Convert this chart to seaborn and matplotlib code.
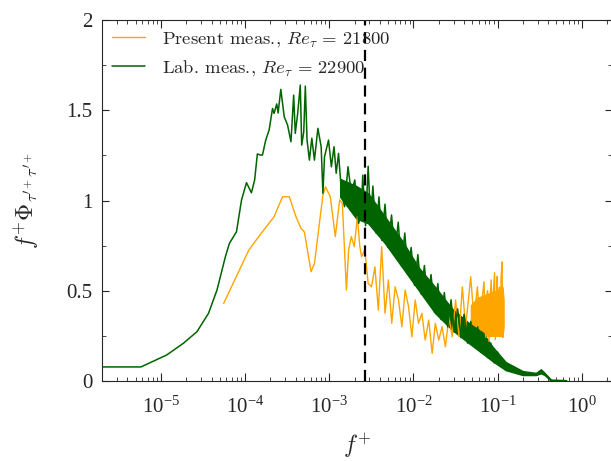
import numpy as np
import pandas as pd
import seaborn as sns
from matplotlib import pyplot as plt

# values (f+ on a log axis)
present_f = [5.57e-5, 1.11e-4, 1.53e-4, 2.21e-4, 2.79e-4, 3.35e-4, 4.03e-4, 4.62e-4, 5.06e-4, 6.08e-4,
             6.67e-4, 8.41e-4, 9.04e-4, 1.03e-3, 1.18e-3, 1.33e-3, 1.43e-3, 1.60e-3, 1.70e-3, 1.83e-3,
             1.98e-3, 2.16e-3, 2.31e-3, 2.42e-3, 2.65e-3, 2.90e-3, 3.18e-3, 3.49e-3, 3.83e-3, 4.20e-3,
             4.60e-3, 5.04e-3, 5.53e-3, 6.06e-3, 6.65e-3, 7.29e-3, 7.98e-3, 8.75e-3, 9.59e-3, 1.05e-2,
             1.15e-2, 1.26e-2, 1.38e-2, 1.52e-2, 1.67e-2, 1.82e-2, 2.00e-2, 2.19e-2, 2.40e-2, 2.64e-2,
             2.89e-2, 3.17e-2, 3.48e-2, 3.81e-2, 4.17e-2, 4.58e-2, 4.79e-2, 5.25e-2, 5.75e-2, 6.31e-2,
             6.6e-2, 6.9e-2, 7.2e-2, 7.4e-2, 7.6e-2, 7.9e-2, 8.1e-2, 8.4e-2, 8.7e-2, 8.9e-2,
             9.2e-2, 9.4e-2, 9.7e-2, 9.9e-2, 0.102, 0.105, 0.108, 0.110, 0.113, 0.115, 0.117]
present_phi = [0.43, 0.726, 0.814, 0.91, 1.021, 1.021, 0.91, 0.846, 0.827, 0.606,
               0.652, 1.03, 1.076, 1.021, 0.80, 1.003, 0.985, 0.504, 0.726, 0.80,
               0.744, 0.91, 0.744, 0.689, 0.726, 0.541, 0.522, 0.633, 0.393, 0.744,
               0.375, 0.56, 0.32, 0.522, 0.449, 0.301, 0.504, 0.412, 0.245, 0.449,
               0.32, 0.375, 0.227, 0.338, 0.153, 0.32, 0.227, 0.301, 0.19, 0.356,
               0.245, 0.449, 0.245, 0.522, 0.301, 0.486, 0.578, 0.338, 0.522, 0.283,
               0.47, 0.55, 0.24, 0.46, 0.50, 0.22, 0.44, 0.56, 0.26, 0.49,
               0.60, 0.23, 0.47, 0.58, 0.27, 0.52, 0.25, 0.57, 0.66, 0.24, 0.35]
# dense noisy tail of the present measurement (envelope)
present_band_f = [4.8e-2, 5.75e-2, 7.24e-2, 9.55e-2, 0.115, 0.118]
present_band_lo = [0.28, 0.26, 0.25, 0.25, 0.25, 0.30]
present_band_hi = [0.42, 0.46, 0.48, 0.50, 0.52, 0.45]

lab_f = [2.0e-6, 5.8e-6, 1.17e-5, 1.85e-5, 2.68e-5, 3.68e-5, 4.64e-5, 5.84e-5, 6.52e-5, 7.91e-5,
         9.08e-5, 1.04e-4, 1.19e-4, 1.30e-4, 1.40e-4, 1.53e-4, 1.61e-4, 1.76e-4, 1.93e-4, 2.12e-4,
         2.21e-4, 2.38e-4, 2.47e-4, 2.66e-4, 2.92e-4, 3.20e-4, 3.51e-4, 3.78e-4, 3.95e-4, 4.22e-4,
         4.53e-4, 4.71e-4, 4.98e-4, 5.20e-4, 5.45e-4, 5.81e-4, 6.21e-4, 6.67e-4, 7.33e-4, 8.02e-4,
         8.41e-4, 8.79e-4, 9.81e-4, 1.06e-3, 1.14e-3, 1.21e-3, 1.29e-3, 1.39e-3, 1.52e-3, 1.67e-3,
         1.83e-3, 2.01e-3, 2.24e-3, 2.42e-3,
         2.5e-3, 2.7e-3, 2.9e-3, 3.1e-3, 3.3e-3, 3.6e-3, 3.9e-3, 4.2e-3, 4.6e-3, 5.0e-3,
         5.5e-3, 6.0e-3, 6.6e-3, 7.2e-3, 7.9e-3, 8.6e-3, 9.4e-3, 1.03e-2, 1.13e-2, 1.24e-2,
         1.35e-2, 1.48e-2, 1.62e-2, 1.78e-2, 1.95e-2, 2.13e-2, 2.33e-2, 2.55e-2, 2.8e-2, 3.06e-2,
         3.35e-2, 3.67e-2, 4.0e-2, 4.4e-2, 4.8e-2, 5.3e-2, 5.8e-2, 6.3e-2, 6.9e-2, 7.6e-2,
         8.3e-2, 9.1e-2, 0.10, 0.11, 0.12]
lab_phi = [0.078, 0.078, 0.144, 0.209, 0.273, 0.375, 0.504, 0.689, 0.763, 0.827,
           1.003, 1.099, 1.043, 1.114, 1.258, 1.252, 1.252, 1.335, 1.39, 1.51,
           1.483, 1.535, 1.485, 1.616, 1.464, 1.418, 1.326, 1.584, 1.372, 1.483,
           1.64, 1.307, 1.381, 1.634, 1.335, 1.224, 1.345, 1.224, 1.40, 1.298,
           1.04, 1.243, 1.335, 1.187, 1.298, 1.151, 1.261, 1.058, 0.966, 1.187,
           1.04, 1.114, 0.874, 0.966,
           1.14, 0.86, 1.19, 0.88, 1.08, 0.82, 1.02, 0.78, 0.98, 0.74,
           0.92, 0.70, 0.88, 0.64, 0.82, 0.60, 0.74, 0.53, 0.70, 0.48,
           0.64, 0.44, 0.59, 0.38, 0.54, 0.34, 0.49, 0.30, 0.45, 0.27,
           0.40, 0.24, 0.37, 0.21, 0.33, 0.19, 0.30, 0.16, 0.26, 0.13,
           0.21, 0.10, 0.16, 0.08, 0.11]
# dense band of the lab measurement (envelope)
lab_band_f = [1.35e-3, 2.10e-3, 2.90e-3, 4.60e-3, 7.29e-3, 1.15e-2, 1.82e-2, 2.89e-2, 4.58e-2, 6.61e-2,
              8.71e-2, 0.125, 0.199, 0.285, 0.327, 0.362, 0.431, 0.652]
lab_band_lo = [1.02, 0.90, 0.874, 0.763, 0.633, 0.504, 0.375, 0.283, 0.209, 0.153,
               0.11, 0.06, 0.033, 0.033, 0.043, 0.033, 0.0, 0.0]
lab_band_hi = [1.12, 1.08, 1.04, 0.91, 0.78, 0.63, 0.52, 0.40, 0.32, 0.27,
               0.19, 0.105, 0.055, 0.045, 0.065, 0.045, 0.008, 0.005]

f_cut = 2.65e-3
labels = [r'Present meas., $Re_\tau\,=\,21800$',
          r'Lab. meas., $Re_\tau\,=\,22900$']
c_present = '#ffa500'
c_lab = '#006400'

sns.set_style('ticks')
plt.rcParams['font.family'] = ['Liberation Serif', 'DejaVu Serif']
plt.rcParams['mathtext.fontset'] = 'cm'

fig = plt.figure(figsize=(6.11, 4.61), dpi=100)
ax = fig.add_axes([0.167, 0.1735, 0.835, 0.783])

pres = pd.DataFrame({'f': present_f, 'phi': present_phi})
lab = pd.DataFrame({'f': lab_f, 'phi': lab_phi})

ax.fill_between(present_band_f, present_band_lo, present_band_hi, color=c_present, lw=0.8)
sns.lineplot(data=pres, x='f', y='phi', ax=ax, color=c_present, lw=1.0, sort=False,
             estimator=None, label=labels[0])
ax.fill_between(lab_band_f, lab_band_lo, lab_band_hi, color=c_lab, lw=1.0)
sns.lineplot(data=lab, x='f', y='phi', ax=ax, color=c_lab, lw=1.1, sort=False,
             estimator=None, label=labels[1])

ax.axvline(f_cut, color='black', ls=(0, (5, 3)), lw=1.6)

ax.set_xscale('log')
ax.set_xlim(2e-6, 2.3)
ax.set_xticks([1e-5, 1e-4, 1e-3, 1e-2, 1e-1, 1e0])
ax.set_ylim(0, 2)
ax.set_yticks([0, 0.5, 1, 1.5, 2])
ax.set_yticklabels(['0', '0.5', '1', '1.5', '2'])
ax.set_yticks([0.25, 0.75, 1.25, 1.75], minor=True)
ax.tick_params(which='both', direction='in', top=True, right=True, labelsize=15)
ax.tick_params(axis='x', which='major', length=6, pad=11)
ax.tick_params(axis='y', which='major', length=5, pad=7)
ax.tick_params(which='minor', length=3)

ax.set_xlabel(r'$f^{+}$', fontsize=17, labelpad=10)
ax.set_ylabel(r"$f^{+}\Phi_{\tau^{\prime +}\tau^{\prime +}}$", fontsize=17, labelpad=18)

ax.legend(loc='upper left', frameon=False, prop={'family': 'cmr10', 'size': 13.4},
          handlelength=1.75, handletextpad=0.9, borderaxespad=0.15, labelspacing=0.45)

plt.savefig('out.png', dpi=100)
